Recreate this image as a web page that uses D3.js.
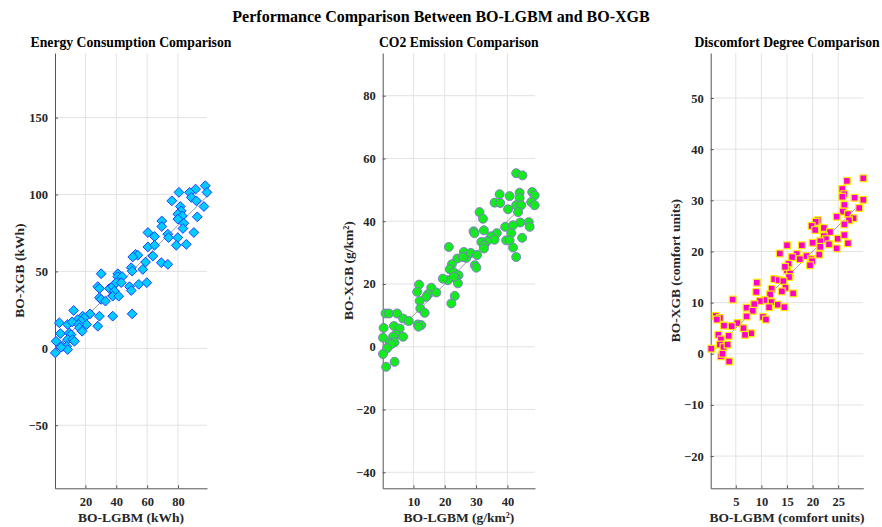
<!DOCTYPE html>
<html><head><meta charset="utf-8">
<script src="https://cdn.jsdelivr.net/npm/d3@7"></script>
<style>
html,body{margin:0;padding:0;background:#fff;}
svg{display:block;font-family:"Liberation Serif","Times New Roman",serif;}
</style></head>
<body><svg id="chart" width="882" height="527"></svg>
<script>
const mainTitle = "Performance Comparison Between BO-LGBM and BO-XGB";

const energyX = [97.7,98.8,91.4,87.5,80.6,88.6,91.9,76.0,96.8,81.5,82.1,79.9,82.8,92.5,79.9,83.8,69.5,69.5,83.2,90.3,60.5,73.4,64.8,79.9,73.9,60.5,64.8,78.9,85.4,52.5,54.0,50.7,63.7,59.0,69.2,73.4,49.7,57.2,50.3,30.2,41.0,
  41.0,43.8,28.0,29.1,35.6,37.7,39.9,43.2,38.8,48.6,49.7,54.6,59.8,29.1,30.2,33.0,37.7,41.6,12.4,23.0,29.1,37.7,50.3,28.0,18.2,19.4,15.0,17.2,20.8,3.1,8.5,11.4,15.6,16.1,17.9,3.8,9.6,10.7,8.5,11.8,12.9,1.0,5.3,7.9,8.5,0.5,4.2];
const energyY = [105.7,101.4,103.5,101.4,101.4,98.1,95.9,95.9,92.2,92.2,89.4,87.2,86.1,85.5,84.0,81.3,82.8,79.2,77.9,75.3,75.3,74.2,72.7,72.0,72.0,65.9,67.0,67.0,67.6,61.1,60.5,59.4,60.0,56.1,55.7,54.6,52.4,51.3,50.2,48.5,48.5,
  46.6,46.6,40.1,38.9,38.9,40.4,42.7,42.7,37.2,40.1,37.6,41.6,42.7,32.9,31.8,30.7,33.9,33.9,24.6,22.4,20.9,20.9,22.4,14.4,20.9,19.8,18.7,17.6,15.5,16.6,15.5,17.2,15.5,13.3,11.1,9.6,10.0,8.9,5.7,5.7,4.6,4.6,1.3,1.3,-0.8,-3.0,0.7];

const co2X = [42.8,44.8,37.5,40.7,43.9,47.9,48.7,43.9,35.9,37.7,42.8,44.4,47.6,48.7,40.2,43.4,31.1,32.2,44.1,46.8,47.1,39.3,41.8,29.2,29.5,32.5,36.6,41.2,34.8,35.9,33.5,31.7,32.5,39.6,40.7,44.7,41.8,42.8,32.5,21.3,26.1,26.9,28.3,30.3,24.0,25.8,29.6,30.1,22.3,21.6,
  22.9,24.4,23.4,21.0,19.4,24.2,22.9,23.2,22.1,11.8,11.2,15.7,14.6,17.3,14.1,12.0,12.2,13.6,1.1,2.2,4.8,6.7,8.5,11.4,12.5,11.6,0.5,3.8,5.6,4.5,6.7,3.5,0.3,2.4,4.0,2.9,1.6,0.3,4.0,1.3];
const co2Y = [55.3,54.6,48.6,48.0,49.1,49.3,48.2,47.4,45.9,45.8,45.1,45.1,46.1,45.1,43.8,42.9,42.9,40.8,39.6,39.7,38.2,38.2,38.7,36.8,36.2,37.1,36.2,36.2,35.2,34.1,33.6,33.4,32.3,33.9,33.9,34.7,31.6,28.6,31.3,31.8,30.2,28.3,29.9,29.2,28.1,28.6,26.0,25.2,26.3,24.7,
  23.7,22.8,21.9,21.2,21.7,20.2,22.3,16.2,13.8,19.8,17.5,18.8,16.7,17.3,15.9,14.6,12.2,10.8,10.6,10.6,10.6,9.0,8.2,7.1,6.9,6.4,6.0,6.6,5.8,3.9,3.2,3.2,2.9,1.4,1.4,0.8,-0.5,-2.3,-4.8,-6.4];

const discX = [29.9,26.7,25.8,26.2,25.8,28.2,29.9,26.2,29.1,25.9,26.9,28.0,27.1,24.7,26.2,21.0,20.6,19.8,20.5,22.2,23.4,22.2,22.6,21.5,20.0,24.9,26.2,26.9,23.2,24.7,21.5,15.0,17.9,21.3,18.8,19.7,19.9,16.9,16.0,17.5,13.6,15.3,19.5,
  15.0,15.6,15.4,14.6,9.1,9.0,12.5,13.4,14.3,12.0,11.7,14.7,14.0,16.2,4.4,10.6,9.7,12.0,11.5,13.2,14.5,8.6,7.1,8.3,7.1,10.3,10.9,1.1,1.9,1.3,5.3,2.7,4.2,6.5,8.0,6.8,1.6,3.6,2.1,1.9,2.6,3.4,0.2,2.1,2.4,3.7];
const discY = [34.3,33.8,32.2,31.2,30.7,30.5,30.1,29.1,28.5,27.8,27.3,26.5,26.1,26.8,25.3,26.1,25.8,25.0,24.2,24.6,23.8,23.0,22.4,22.0,21.7,22.5,23.2,21.6,21.4,20.6,20.9,21.2,21.2,19.4,19.1,18.5,18.1,19.5,18.9,18.5,19.6,17.6,17.3,
  16.3,15.7,15.0,17.0,13.9,12.1,14.6,14.4,14.2,12.7,11.6,12.9,12.2,11.8,10.6,10.5,10.3,10.1,9.1,9.6,9.1,9.7,9.0,8.4,7.3,7.2,6.7,7.4,7.0,6.7,6.0,5.5,5.4,5.0,4.0,3.7,3.7,3.5,2.8,1.8,1.3,1.8,1.0,-0.5,0.0,-1.5];

const energyXTicks = [20,40,60,80];
const energyYTicks = [-50,0,50,100,150];
const co2XTicks = [10,20,30,40];
const co2YTicks = [-40,-20,0,20,40,60,80];
const discXTicks = [5,10,15,20,25];
const discYTicks = [-20,-10,0,10,20,30,40,50];

const panels = [
  {title:"Energy Consumption Comparison", xl:"BO-LGBM (kWh)", yl:"BO-XGB (kWh)",
   x:energyX, y:energyY, xt:energyXTicks, yt:energyYTicks,
   xd:[0.3,98.8], yd:[-91,192], left:55, right:207, ylx:20, marker:"diamond"},
  {title:"CO2 Emission Comparison", xl:"BO-LGBM (g/km²)", yl:"BO-XGB (g/km²)",
   x:co2X, y:co2Y, xt:co2XTicks, yt:co2YTicks,
   xd:[0.2,48.8], yd:[-45.1,93.6], left:382.7, right:535, ylx:349, marker:"circle"},
  {title:"Discomfort Degree Comparison", xl:"BO-LGBM (comfort units)", yl:"BO-XGB (comfort units)",
   x:discX, y:discY, xt:discXTicks, yt:discYTicks,
   xd:[0.1,29.9], yd:[-26.3,58.8], left:710.7, right:863.3, ylx:676, marker:"square"}
];

const svg = d3.select("#chart");
const plotTop = 53, plotBottom = 488.3;

svg.append("text").attr("x",441).attr("y",22).attr("text-anchor","middle")
  .attr("font-weight","bold").attr("font-size",16).attr("fill","#000").text(mainTitle);

panels.forEach(p=>{
  const xs = d3.scaleLinear().domain(p.xd).range([p.left,p.right]);
  const ys = d3.scaleLinear().domain(p.yd).range([plotBottom,plotTop]);
  const g = svg.append("g");
  g.selectAll(".gx").data(p.xt).join("line")
    .attr("x1",d=>xs(d)).attr("x2",d=>xs(d)).attr("y1",plotTop).attr("y2",plotBottom)
    .attr("stroke","#e3e3e3").attr("stroke-width",1);
  g.selectAll(".gy").data(p.yt).join("line")
    .attr("y1",d=>ys(d)).attr("y2",d=>ys(d)).attr("x1",p.left).attr("x2",p.right)
    .attr("stroke","#e3e3e3").attr("stroke-width",1);
  const xa = g.append("g").attr("transform",`translate(0,${plotBottom})`)
    .call(d3.axisBottom(xs).tickValues(p.xt).tickSizeInner(-3).tickSizeOuter(0).tickPadding(9));
  const ya = g.append("g").attr("transform",`translate(${p.left},0)`)
    .call(d3.axisLeft(ys).tickValues(p.yt).tickSizeInner(-3).tickSizeOuter(0).tickPadding(7));
  [xa,ya].forEach(a=>{
    a.select(".domain").attr("stroke","#555");
    a.selectAll(".tick line").attr("stroke","#555");
    a.selectAll(".tick text").attr("font-family","Liberation Serif, serif")
      .attr("font-weight","bold").attr("font-size",12.5).attr("fill","#262626");
  });
  const mn = d3.min(p.x), mx = d3.max(p.x);
  g.append("line").attr("x1",xs(mn)).attr("y1",ys(mn)).attr("x2",xs(mx)).attr("y2",ys(mx))
    .attr("stroke","#9a9a9a").attr("stroke-width",1);
  const pts = p.x.map((v,i)=>[v,p.y[i]]);
  if(p.marker==="diamond"){
    g.selectAll(".pt").data(pts).join("path")
      .attr("d",d=>{const cx=xs(d[0]),cy=ys(d[1]),r=4.9;return `M${cx},${cy-r}L${cx+r},${cy}L${cx},${cy+r}L${cx-r},${cy}Z`;})
      .attr("fill","#00ccff").attr("stroke","#1f3dff").attr("stroke-width",1);
  } else if(p.marker==="circle"){
    g.selectAll(".pt").data(pts).join("circle")
      .attr("cx",d=>xs(d[0])).attr("cy",d=>ys(d[1])).attr("r",4.5)
      .attr("fill","#12ec1c").attr("stroke","#8a6fd0").attr("stroke-width",0.9);
  } else {
    g.selectAll(".pt").data(pts).join("rect")
      .attr("x",d=>xs(d[0])-3.4).attr("y",d=>ys(d[1])-3.4).attr("width",6.8).attr("height",6.8)
      .attr("fill","#ff00cc").attr("stroke","#ffee00").attr("stroke-width",1.2);
  }
  const cx = (p.left+p.right)/2;
  svg.append("text").attr("x",cx).attr("y",47).attr("text-anchor","middle")
    .attr("font-weight","bold").attr("font-size",13.7).attr("fill","#000").text(p.title);
  svg.append("text").attr("x",cx).attr("y",522).attr("text-anchor","middle")
    .attr("font-weight","bold").attr("font-size",13.5).attr("fill","#262626").text(p.xl);
  svg.append("text").attr("transform",`translate(${p.ylx+4},${(plotTop+plotBottom)/2}) rotate(-90)`)
    .attr("text-anchor","middle")
    .attr("font-weight","bold").attr("font-size",13.5).attr("fill","#262626").text(p.yl);
});
</script></body></html>
